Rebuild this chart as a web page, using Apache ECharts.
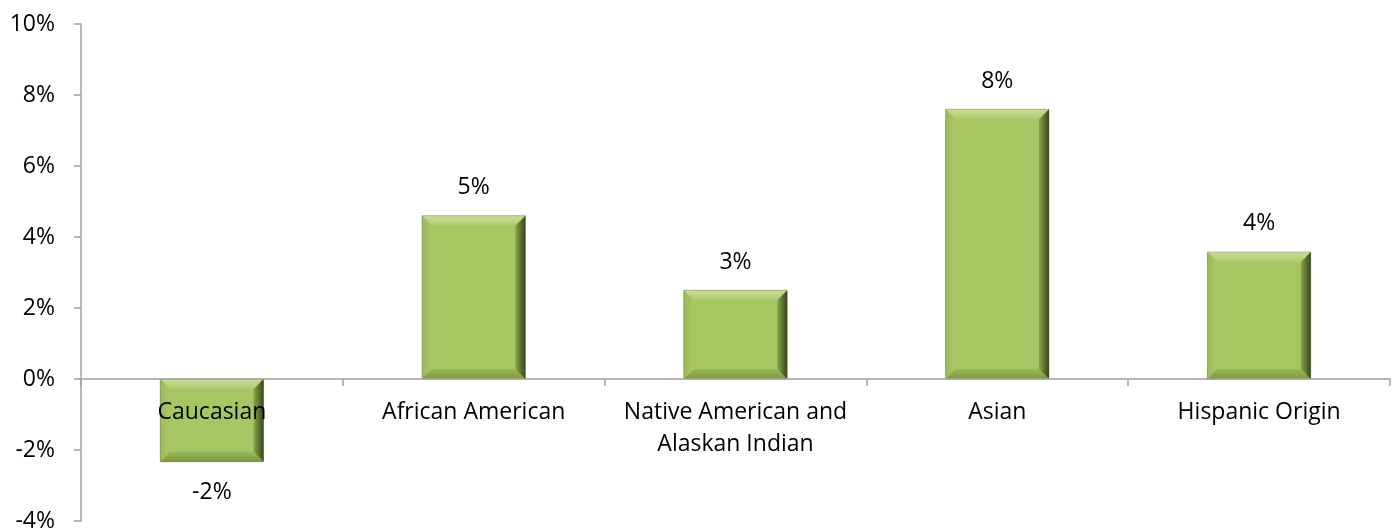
<!DOCTYPE html>
<html>
<head>
<meta charset="utf-8">
<script src="https://cdn.jsdelivr.net/npm/echarts@6/dist/echarts.min.js"></script>
<style>
html,body{margin:0;padding:0;background:#fff;}
#chart{width:1397px;height:529px;}
</style>
</head>
<body>
<div id="chart"></div>
<script>
const categories = ['Caucasian', 'African American', 'Native American and\nAlaskan Indian', 'Asian', 'Hispanic Origin'];
const values = [-2.33, 4.6, 2.5, 7.6, 3.58];
const yTicks = { min: -4, max: 10, interval: 2 };

const FONT = '"Open Sans"';
const FS = 23;
const chart = echarts.init(document.getElementById('chart'), null, { renderer: 'canvas' });

function renderBevelBar(params, api) {
  const idx = api.value(0);
  const v = api.value(1);
  const p0 = api.coord([idx, 0]);
  const p1 = api.coord([idx, v]);
  const bw = api.size([1, 0])[0] * 0.395;
  const x0 = p0[0] - bw / 2, x1 = p0[0] + bw / 2;
  const yTop = Math.min(p0[1], p1[1]), yBot = Math.max(p0[1], p1[1]);
  const b = Math.min(10, (yBot - yTop) / 2);
  const face = '#A6C563';
  const children = [
    { type: 'rect', shape: { x: x0, y: yTop, width: bw, height: yBot - yTop }, style: { fill: face } },
    { type: 'polygon', shape: { points: [[x0, yTop], [x1, yTop], [x1 - b, yTop + b], [x0 + b, yTop + b]] },
      style: { fill: new echarts.graphic.LinearGradient(0, 0, 0, 1, [{ offset: 0, color: '#CADD98' }, { offset: 1, color: '#AECA6C' }]) } },
    { type: 'polygon', shape: { points: [[x0, yTop], [x0 + b, yTop + b], [x0 + b, yBot - b], [x0, yBot]] },
      style: { fill: new echarts.graphic.LinearGradient(0, 0, 1, 0, [{ offset: 0, color: '#9CBA57' }, { offset: 1, color: '#A9C766' }]) } },
    { type: 'polygon', shape: { points: [[x0, yBot], [x0 + b, yBot - b], [x1 - b, yBot - b], [x1, yBot]] },
      style: { fill: new echarts.graphic.LinearGradient(0, 0, 0, 1, [{ offset: 0, color: '#9AB857' }, { offset: 1, color: '#7E9944' }]) } },
    { type: 'polygon', shape: { points: [[x1, yTop], [x1, yBot], [x1 - b, yBot - b], [x1 - b, yTop + b]] },
      style: { fill: new echarts.graphic.LinearGradient(0, 0, 1, 0, [{ offset: 0, color: '#8AA64C' }, { offset: 1, color: '#36451A' }]) } },
    { type: 'rect', shape: { x: x0, y: yTop, width: bw, height: yBot - yTop },
      style: { fill: 'none', stroke: 'rgba(80,100,40,0.35)', lineWidth: 1 } }
  ];
  const label = Math.round(v) + '%';
  const font = FS + 'px ' + FONT;
  if (v >= 0) {
    children.push({ type: 'text', style: { text: label, x: p0[0], y: yTop - 28, align: 'center', verticalAlign: 'middle', fill: '#000', font: font } });
  } else {
    children.push({ type: 'text', style: { text: label, x: p0[0], y: yBot + 31, align: 'center', verticalAlign: 'middle', fill: '#000', font: font } });
  }
  const lines = categories[idx].split('\n');
  lines.forEach((ln, k) => {
    children.push({ type: 'text', z2: 20, style: { text: ln, x: p0[0], y: p0[1] + 33 + k * 32, align: 'center', verticalAlign: 'middle', fill: '#000', font: font } });
  });
  return { type: 'group', children: children };
}

chart.setOption({
  animation: false,
  grid: { left: 81, right: 7, top: 24, bottom: 8, containLabel: false, outerBoundsMode: 'none' },
  xAxis: {
    type: 'category',
    data: categories,
    axisLine: { onZero: true, lineStyle: { color: '#A0A0A0', width: 1.5 } },
    axisTick: { show: true, length: 7, lineStyle: { color: '#A0A0A0', width: 1.5 } },
    axisLabel: { show: false },
    z: 10
  },
  yAxis: {
    type: 'value',
    min: yTicks.min, max: yTicks.max, interval: yTicks.interval,
    axisLine: { show: true, lineStyle: { color: '#A0A0A0', width: 1.5 } },
    axisTick: { show: true, length: 7, lineStyle: { color: '#A0A0A0', width: 1.5 } },
    splitLine: { show: false },
    axisLabel: { color: '#000', fontSize: FS, fontFamily: 'Open Sans', margin: 26, formatter: v => v + '%' }
  },
  series: [{
    type: 'custom',
    renderItem: renderBevelBar,
    encode: { x: 0, y: 1 },
    data: values.map((v, i) => [i, v]),
    z: 2
  }]
});
</script>
</body>
</html>
